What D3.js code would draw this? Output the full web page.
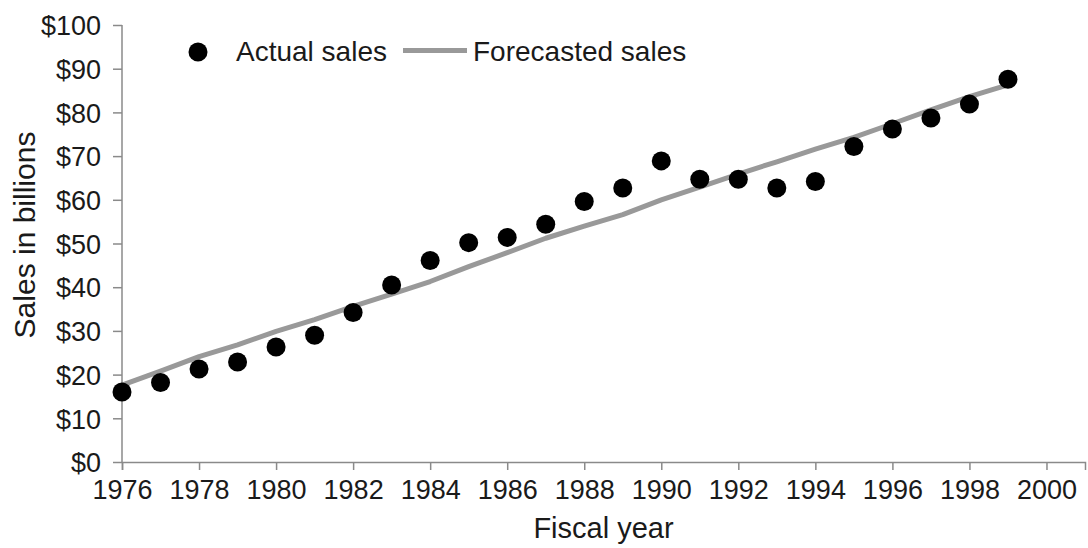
<!DOCTYPE html>
<html>
<head>
<meta charset="utf-8">
<script src="https://cdn.jsdelivr.net/npm/d3@7"></script>
<style>
  body { margin: 0; background: #fff; }
  text { font-family: "Liberation Sans", Arial, sans-serif; fill: #1a1a1a; }
</style>
</head>
<body>
<svg id="chart"></svg>
<script>
// data
const years = d3.range(1976, 2000);
const actualSales = [16.0, 18.2, 21.3, 22.9, 26.3, 29.0, 34.2, 40.5, 46.1, 50.2,
	51.4, 54.4, 59.6, 62.7, 68.9, 64.7, 64.7, 62.7, 64.2, 72.2, 76.2, 78.7, 81.9, 87.6];
const forecastSales = [17.6, 20.8, 24.1, 26.8, 29.9, 32.6, 35.6, 38.4, 41.3, 44.7,
	47.9, 51.2, 54.0, 56.6, 60.0, 62.9, 65.9, 68.7, 71.6, 74.3, 77.4, 80.6, 83.6, 86.3];
const yTicks = [0, 10, 20, 30, 40, 50, 60, 70, 80, 90, 100];
const xTicks = d3.range(1976, 2001, 2);

const width = 1088, height = 548;
const margin = { top: 25, right: 3, bottom: 86, left: 122 };

const svg = d3.select('#chart').attr('width', width).attr('height', height);

const x = d3.scaleLinear()
	.domain([1976, 2001])
	.range([margin.left, width - margin.right]);
const y = d3.scaleLinear()
	.domain([0, 100])
	.range([height - margin.bottom, margin.top]);

const axisColor = '#8a8a8a';

// y axis
const yAxis = svg.append('g')
	.attr('transform', `translate(${margin.left},0)`)
	.call(d3.axisLeft(y).tickValues(yTicks).tickSize(9).tickPadding(12)
		.tickFormat(d => '$' + d));
yAxis.selectAll('text').style('font-size', '27px').attr('dy', '0.36em');

// x axis
const xAxis = svg.append('g')
	.attr('transform', `translate(0,${y(0)})`)
	.call(d3.axisBottom(x).tickValues(xTicks).tickSize(8).tickPadding(10)
		.tickFormat(d3.format('d')));
xAxis.selectAll('text').style('font-size', '27px');

svg.selectAll('.domain, .tick line')
	.attr('stroke', axisColor).attr('stroke-width', 1.5);
yAxis.select('.domain').attr('d', `M0,${y(100)}V${y(0)}`);

// axis titles
svg.append('text')
	.attr('x', (margin.left + width - margin.right) / 2)
	.attr('y', 538)
	.attr('text-anchor', 'middle')
	.style('font-size', '29px')
	.text('Fiscal year');

svg.append('text')
	.attr('transform', 'translate(35,235) rotate(-90)')
	.attr('text-anchor', 'middle')
	.style('font-size', '30px')
	.text('Sales in billions');

// forecast line
const line = d3.line()
	.x((d, i) => x(years[i]))
	.y(d => y(d));

svg.append('path')
	.datum(forecastSales)
	.attr('fill', 'none')
	.attr('stroke', '#999')
	.attr('stroke-width', 5)
	.attr('stroke-linejoin', 'round')
	.attr('d', line);

// actual sales dots
svg.selectAll('.dot')
	.data(actualSales)
	.join('circle')
	.attr('class', 'dot')
	.attr('cx', (d, i) => x(years[i]))
	.attr('cy', d => y(d))
	.attr('r', 9.5)
	.attr('fill', '#000');

// legend
const legend = svg.append('g');
legend.append('circle')
	.attr('cx', 198).attr('cy', 52).attr('r', 9.5).attr('fill', '#000');
legend.append('text')
	.attr('x', 236).attr('y', 61)
	.style('font-size', '28px')
	.text('Actual sales');
legend.append('line')
	.attr('x1', 403).attr('x2', 467)
	.attr('y1', 50.5).attr('y2', 50.5)
	.attr('stroke', '#999').attr('stroke-width', 5);
legend.append('text')
	.attr('x', 473).attr('y', 61)
	.style('font-size', '28px')
	.text('Forecasted sales');
</script>
</body>
</html>
